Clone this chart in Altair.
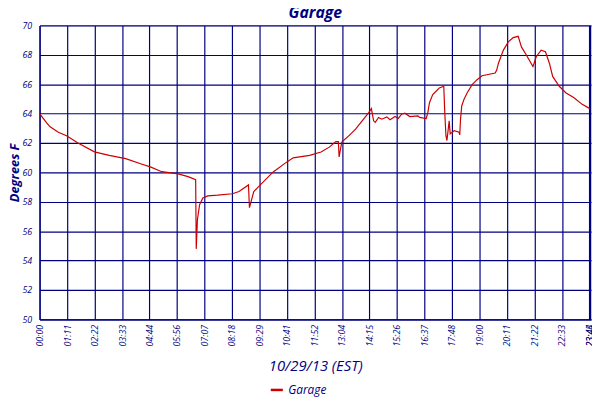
import altair as alt
import pandas as pd

# time in minutes after midnight, temperature in deg F
minutes = [0, 18.9, 27.3, 48.5, 69.9, 99.5, 142.1, 180.4, 223.0, 265.4, 286.8, 316.4,
           359.0, 384.5, 404.2, 405.7, 408.8, 414.4, 422.8, 435.6, 461.1, 499.4, 516.5,
           541.0, 543.5, 554.7, 571.6, 605.8, 639.7, 656.8, 699.2, 729.0, 750.2, 767.3,
           773.7, 775.7, 782.6, 801.2, 818.3, 835.4, 852.3, 859.2, 865.0, 869.3, 877.8,
           886.4, 899.2, 907.6, 920.4, 928.8, 937.5, 945.9, 958.7, 979.8, 984.2, 1001.3,
           1005.4, 1009.7, 1018.1, 1026.8, 1035.2, 1046.7, 1049.3, 1052.3, 1054.9, 1060.7,
           1063.3, 1073.5, 1086.3, 1088.1, 1090.1, 1093.2, 1099.0, 1107.4, 1120.2, 1133.0,
           1145.7, 1179.9, 1184.0, 1188.3, 1201.1, 1213.8, 1226.6, 1239.4, 1247.8, 1260.5,
           1277.6, 1286.1, 1298.8, 1310.0, 1320.2, 1328.7, 1345.8, 1362.6, 1384.0, 1405.2,
           1425.0]
temps = [64.0, 63.35, 63.1, 62.73, 62.5, 62.0, 61.4, 61.16, 60.94, 60.56, 60.38, 60.05,
         59.9, 59.71, 59.5, 54.8, 56.8, 57.8, 58.26, 58.4, 58.45, 58.55, 58.7,
         59.15, 57.6, 58.7, 59.15, 60.05, 60.7, 60.99, 61.16, 61.39, 61.72, 62.1,
         62.1, 61.05, 62.06, 62.5, 62.95, 63.51, 64.07, 64.34, 63.51, 63.4, 63.74,
         63.62, 63.78, 63.58, 63.8, 63.67, 63.96, 64.03, 63.8, 63.85, 63.74, 63.67,
         64.07, 64.74, 65.3, 65.52, 65.75, 65.86, 64.07, 62.5, 62.17, 63.51,
         62.62, 62.84, 62.73, 62.55, 63.62, 64.52, 64.97, 65.42, 65.97, 66.31,
         66.58, 66.76, 66.98, 67.43, 68.32, 68.88, 69.17, 69.26, 68.54, 67.99,
         67.2, 67.87, 68.32, 68.21, 67.43, 66.53, 65.86, 65.42, 65.08, 64.63,
         64.34]

tick_labels = ["00:00", "01:11", "02:22", "03:33", "04:44", "05:56", "07:07", "08:18",
               "09:29", "10:41", "11:52", "13:04", "14:15", "15:26", "16:37", "17:48",
               "19:00", "20:11", "21:22", "22:33", "23:44", "23:45"]
tick_step = 71.2
tick_values = [round(i * tick_step, 1) for i in range(21)] + [1425]
y_ticks = list(range(50, 71, 2))

df = pd.DataFrame({"minute": minutes, "temp": temps, "series": "Garage"})

NAVY = "#000080"
FONT = "Open Sans"

label_array = "[" + ",".join("'%s'" % t for t in tick_labels) + "]"
label_expr = "datum.value >= 1425 ? %s[21] : %s[round(datum.value / %s)]" % (
    label_array, label_array, tick_step)

chart = alt.Chart(df).mark_line(strokeWidth=1.2, color="#cc0000").encode(
    x=alt.X("minute:Q",
            scale=alt.Scale(domain=[0, 1428], nice=False, zero=False),
            axis=alt.Axis(values=tick_values, labelExpr=label_expr, labelAngle=270,
                          labelAlign="right", labelBaseline="middle",
                          labelOverlap=False, labelBound=False, labelFlush=False,
                          labelFont=FONT, labelFontStyle="italic", labelFontSize=9,
                          labelColor=NAVY, labelPadding=5,
                          ticks=False, domainColor=NAVY, domainWidth=1.2,
                          gridColor=NAVY, gridWidth=1.2, gridOpacity=1,
                          title="10/29/13 (EST)", titleFont=FONT, titleFontStyle="italic",
                          titleFontWeight="normal", titleFontSize=15, titleColor=NAVY,
                          titlePadding=13)),
    y=alt.Y("temp:Q",
            scale=alt.Scale(domain=[50, 70], nice=False, zero=False),
            axis=alt.Axis(values=y_ticks, labelFont=FONT, labelFontStyle="italic",
                          labelFontSize=9, labelColor=NAVY, labelPadding=8,
                          ticks=False, domainColor=NAVY, domainWidth=1.2,
                          gridColor=NAVY, gridWidth=1.2, gridOpacity=1,
                          title="Degrees F", titleFont=FONT, titleFontStyle="italic",
                          titleFontWeight="bold", titleFontSize=13, titleColor=NAVY,
                          titlePadding=0)),
    color=alt.Color("series:N", scale=alt.Scale(domain=["Garage"], range=["#cc0000"]),
                    legend=alt.Legend(title=None, orient="none", legendX=233, legendY=362,
                                      symbolType="stroke", symbolStrokeWidth=2.5,
                                      symbolSize=150, labelFont=FONT,
                                      labelFontStyle="italic", labelFontSize=12,
                                      labelColor=NAVY)),
).properties(
    width=559, height=298,
    autosize=alt.AutoSizeParams(type="none"),
    padding={"left": 32, "top": 15, "right": 1, "bottom": 77},
    title=alt.TitleParams("Garage", font=FONT, fontSize=16, fontStyle="italic",
                          fontWeight="bold", color=NAVY, anchor="middle", offset=1),
).configure_view(stroke=NAVY, strokeWidth=1.2).configure(background="white")

chart.save("out.html", embed_options={"renderer": "svg", "actions": False})
